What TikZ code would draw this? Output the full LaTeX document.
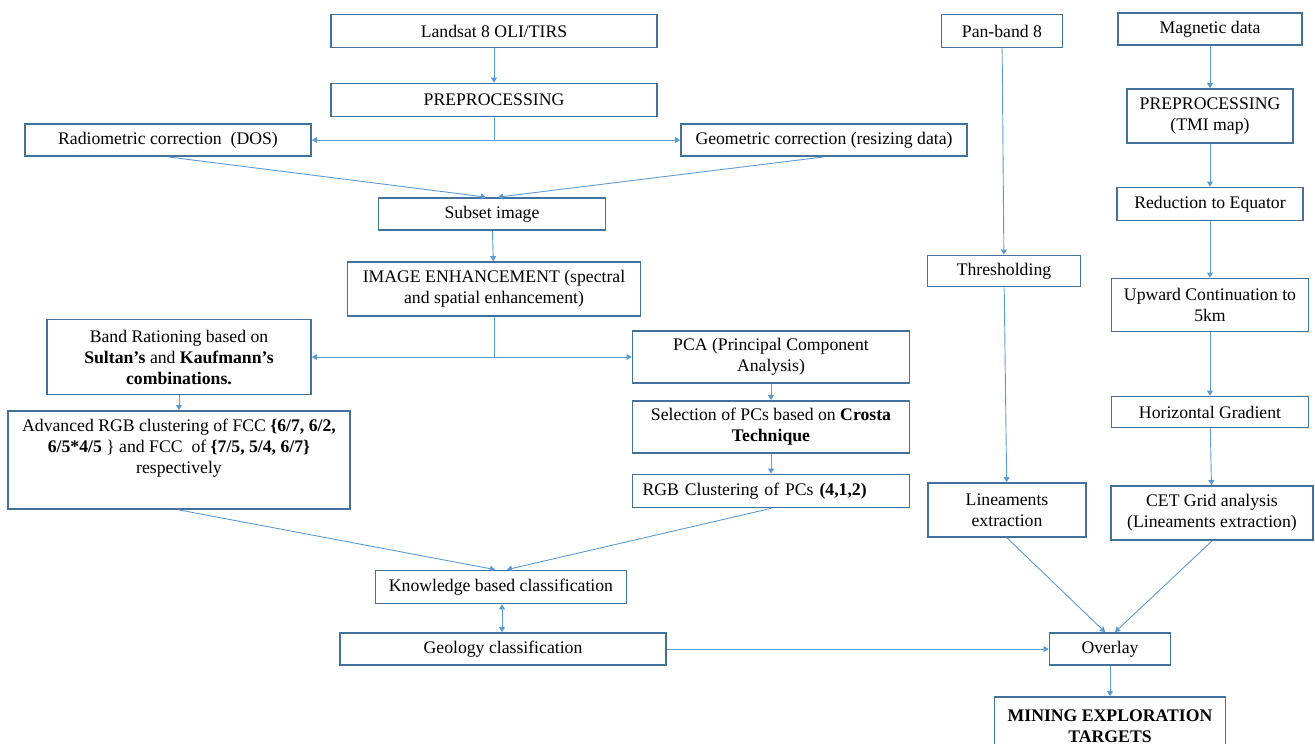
\documentclass[tikz,border=0pt]{standalone}
\usepackage{fontspec}
\setmainfont{Liberation Serif}
\usetikzlibrary{arrows.meta}
\definecolor{boxblue}{RGB}{65,113,156}
\definecolor{lineblue}{RGB}{91,155,213}

\begin{document}
\begin{tikzpicture}[x=1pt, y=-1pt,
    box/.style={draw=boxblue, line width=1.8pt, align=center, inner sep=2pt,
      font=\fontsize{17.7}{21}\selectfont},
    link/.style={draw=lineblue, line width=0.9pt},
    arr/.style={link, -{Triangle[width=6pt,length=5pt]}},
    dblarr/.style={link, {Triangle[width=6pt,length=5pt]}-{Triangle[width=6pt,length=5pt]}}]
  \useasboundingbox (0,0) rectangle (1315,744);

  % Landsat branch
  \node[box, minimum width=326pt, minimum height=33pt] at (494,31)  (ls) {Landsat 8 OLI/TIRS};
  \node[box, minimum width=326pt, minimum height=33pt] at (494,100) (pp) {PREPROCESSING};
  \node[box, minimum width=286pt, minimum height=32pt] at (168,140) (rc) {Radiometric correction~ (DOS)};
  \node[box, minimum width=286pt, minimum height=32pt] at (824,140) (gc) {Geometric correction (resizing data)};
  \node[box, minimum width=227pt, minimum height=32pt] at (492,214) (si) {Subset image};
  \node[box, minimum width=293pt, minimum height=54pt] at (494,289) (ie) {IMAGE ENHANCEMENT (spectral\\and spatial enhancement)};
  \node[box, minimum width=264pt, minimum height=75pt] at (179,357) (br) {Band Rationing based on\\\textbf{Sultan’s} and \textbf{Kaufmann’s}\\\textbf{combinations.}};
  \node[box, minimum width=342pt, minimum height=98pt] at (179,460) (ar) {Advanced RGB clustering of FCC \textbf{\{6/7, 6/2,}\\\textbf{6/5*4/5} \} and FCC~ of \textbf{\{7/5, 5/4, 6/7\}}\\respectively\\\strut};
  \node[box, minimum width=277pt, minimum height=52pt] at (771,357) (pca) {PCA (Principal Component\\Analysis)};
  \node[box, minimum width=277pt, minimum height=52pt] at (771,427) (sel) {Selection of PCs based on \textbf{Crosta}\\\textbf{Technique}};
  \node[box, minimum width=277pt, minimum height=33pt, text width=257pt, align=left] at (771,491) (rgb) {RGB Clustering of PCs \textbf{(4,1,2)}};
  \node[box, minimum width=251pt, minimum height=33pt] at (501,587) (kb) {Knowledge based classification};
  \node[box, minimum width=326pt, minimum height=32pt] at (503,649) (gl) {Geology classification};

  % Pan-band branch
  \node[box, minimum width=121pt, minimum height=33pt] at (1002,31)  (pb) {Pan-band 8};
  \node[box, minimum width=153pt, minimum height=31pt] at (1004,271) (th) {Thresholding};
  \node[box, minimum width=158pt, minimum height=54pt] at (1007,510) (le) {Lineaments\\extraction};

  % magnetic branch
  \node[box, minimum width=184pt, minimum height=32pt] at (1210,29)  (md)  {Magnetic data};
  \node[box, minimum width=166pt, minimum height=54pt] at (1210,116) (tmi) {PREPROCESSING\\(TMI map)};
  \node[box, minimum width=186pt, minimum height=33pt] at (1210,204) (re)  {Reduction to Equator};
  \node[box, minimum width=197pt, minimum height=53pt] at (1210,305) (uc)  {Upward Continuation to\\5km};
  \node[box, minimum width=197pt, minimum height=31pt] at (1210,412) (hg)  {Horizontal Gradient};
  \node[box, minimum width=202pt, minimum height=54pt] at (1212,513) (cet) {CET Grid analysis\\(Lineaments extraction)};

  \node[box, minimum width=121pt, minimum height=32pt] at (1110,649) (ov)  {Overlay};
  \node[box, minimum width=231pt, minimum height=58pt] at (1110,726) (met) {\textbf{MINING EXPLORATION}\\\textbf{TARGETS}};

  % connectors
  \draw[arr] (ls) -- (pp);
  \draw[arr] (pp.south) -- (pp.south |- rc.east) -- (rc.east);
  \draw[arr] (pp.south |- gc.west) -- (gc.west);
  \draw[arr] (rc.south) -- ([xshift=-6pt]si.north);
  \draw[arr] (gc.south) -- ([xshift=6pt]si.north);
  \draw[arr] (si) -- (ie);
  \draw[arr] (ie.south) -- (ie.south |- br.east) -- (br.east);
  \draw[arr] (ie.south |- pca.west) -- (pca.west);
  \draw[arr] (br) -- (ar);
  \draw[arr] (pca) -- (sel);
  \draw[arr] (sel) -- (rgb);
  \draw[arr] (ar.south) -- ([xshift=-6pt]kb.north);
  \draw[arr] (rgb.south) -- ([xshift=6pt]kb.north);
  \draw[dblarr] ([xshift=1pt]kb.south) -- ([xshift=-1pt]gl.north);
  \draw[arr] (gl) -- (ov);
  \draw[arr] (pb) -- (th);
  \draw[arr] (th) -- (le);
  \draw[arr] (md) -- (tmi);
  \draw[arr] (tmi) -- (re);
  \draw[arr] (re) -- (uc);
  \draw[arr] (uc) -- (hg);
  \draw[arr] (hg) -- (cet);
  \draw[arr] (le.south) -- ([xshift=-5pt]ov.north);
  \draw[arr] (cet.south) -- ([xshift=5pt]ov.north);
  \draw[arr] (ov) -- (met);
\end{tikzpicture}
\end{document}
